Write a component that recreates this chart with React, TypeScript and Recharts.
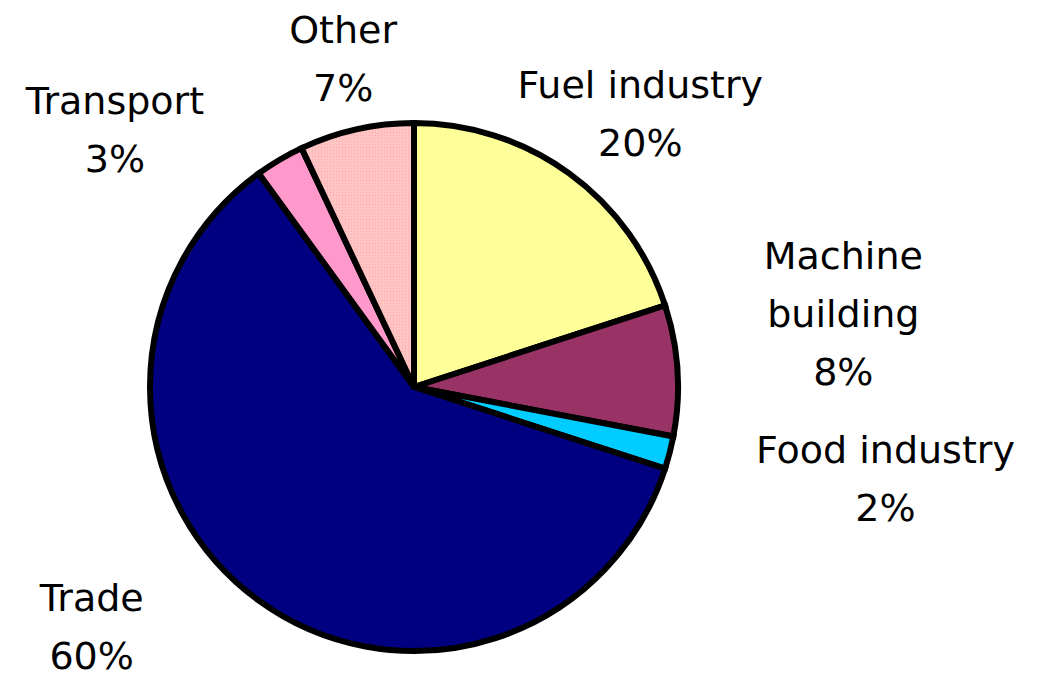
import { Cell, Pie, PieChart } from "recharts";

const categories = [
  "Fuel industry",
  "Machine building",
  "Food industry",
  "Trade",
  "Transport",
  "Other",
];
const shares = [20, 8, 2, 60, 3, 7];
const labelText = [
  ["Fuel industry", "20%"],
  ["Machine", "building", "8%"],
  ["Food industry", "2%"],
  ["Trade", "60%"],
  ["Transport", "3%"],
  ["Other", "7%"],
];

const colors = ["#FFFF99", "#993366", "#00CCFF", "#000080", "#FF99CC", "url(#dots)"];
// label block offset from the radial anchor point
const nudges: Record<string, [number, number]> = {
  "Fuel industry": [30, -3],
  "Machine building": [96, -53],
  "Food industry": [148, 8],
  Trade: [-126, -31],
  Transport: [-129, 30],
  Other: [2, -3],
};

const data = categories.map((name, i) => ({ name, value: shares[i] }));

const RAD = Math.PI / 180;
const LINE = 58;
const FONT = 38;

function renderLabel(props: any) {
  const { cx, cy, midAngle, outerRadius, index, name } = props;
  const r = outerRadius + 70;
  const [nx, ny] = nudges[name] ?? [0, 0];
  const x = cx + r * Math.cos(-midAngle * RAD) + nx;
  const y = cy + r * Math.sin(-midAngle * RAD) + ny;
  const lines = labelText[index];
  const first = y - ((lines.length - 1) * LINE) / 2 + FONT * 0.36;
  return (
    <text
      x={x}
      y={first}
      textAnchor="middle"
      fill="#000"
      fontSize={FONT}
      fontFamily="'DejaVu Sans', sans-serif"
    >
      {lines.map((t, k) => (
        <tspan key={k} x={x} y={first + k * LINE}>
          {t}
        </tspan>
      ))}
    </text>
  );
}

export default function App() {
  return (
    <div style={{ margin: -8, width: 1037, height: 679, background: "#fff" }}>
      <PieChart width={1037} height={679} margin={{ top: 0, right: 0, bottom: 0, left: 0 }}>
        <defs>
          <pattern id="dots" width={3} height={3} patternUnits="userSpaceOnUse">
            <rect width={3} height={3} fill="#FFC4C4" />
            <rect width={1} height={1} fill="#FFA8A8" />
          </pattern>
        </defs>
        <Pie
          data={data}
          dataKey="value"
          nameKey="name"
          cx={414}
          cy={387}
          outerRadius={264}
          startAngle={90}
          endAngle={-270}
          stroke="#000"
          strokeWidth={6}
          label={renderLabel}
          labelLine={false}
          isAnimationActive={false}
        >
          {data.map((d, i) => (
            <Cell key={d.name} fill={colors[i]} />
          ))}
        </Pie>
      </PieChart>
    </div>
  );
}
